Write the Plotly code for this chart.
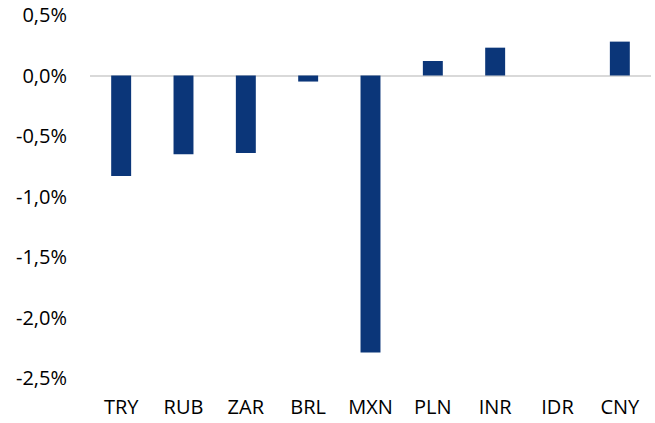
import plotly.graph_objects as go

currencies = ["TRY", "RUB", "ZAR", "BRL", "MXN", "PLN", "INR", "IDR", "CNY"]
change_pct = [-0.83, -0.65, -0.64, -0.05, -2.29, 0.12, 0.23, 0.0, 0.28]

y_tick_vals = [0.5, 0.0, -0.5, -1.0, -1.5, -2.0, -2.5]
y_tick_text = ["0,5%", "0,0%", "-0,5%", "-1,0%", "-1,5%", "-2,0%", "-2,5%"]

font_family = "'Open Sans', sans-serif"

fig = go.Figure(
    go.Bar(
        x=currencies,
        y=change_pct,
        marker=dict(color="#0b3679", line=dict(width=0)),
        width=0.32,
        hoverinfo="skip",
    )
)

fig.update_layout(
    width=655,
    height=423,
    margin=dict(l=90, r=4, t=15, b=45),
    paper_bgcolor="white",
    plot_bgcolor="white",
    showlegend=False,
    font=dict(family=font_family, size=20, color="#000000"),
)

fig.update_xaxes(
    automargin=False,
    showline=False,
    showgrid=False,
    zeroline=False,
    ticks="outside",
    ticklen=11,
    tickcolor="rgba(0,0,0,0)",
    tickfont=dict(size=20),
    ticklabeloverflow="allow",
)

fig.update_yaxes(
    automargin=False,
    range=[-2.5, 0.5],
    tickvals=y_tick_vals,
    ticktext=y_tick_text,
    showgrid=False,
    showline=False,
    zeroline=True,
    zerolinecolor="#d9d9d9",
    zerolinewidth=2,
    ticks="outside",
    ticklen=18,
    tickcolor="rgba(0,0,0,0)",
    tickfont=dict(size=20),
    ticklabeloverflow="allow",
)

fig.write_html(
    "out.html",
    config={"displayModeBar": False},
    post_script="document.body.style.margin='0';document.body.style.overflow='hidden';",
)
